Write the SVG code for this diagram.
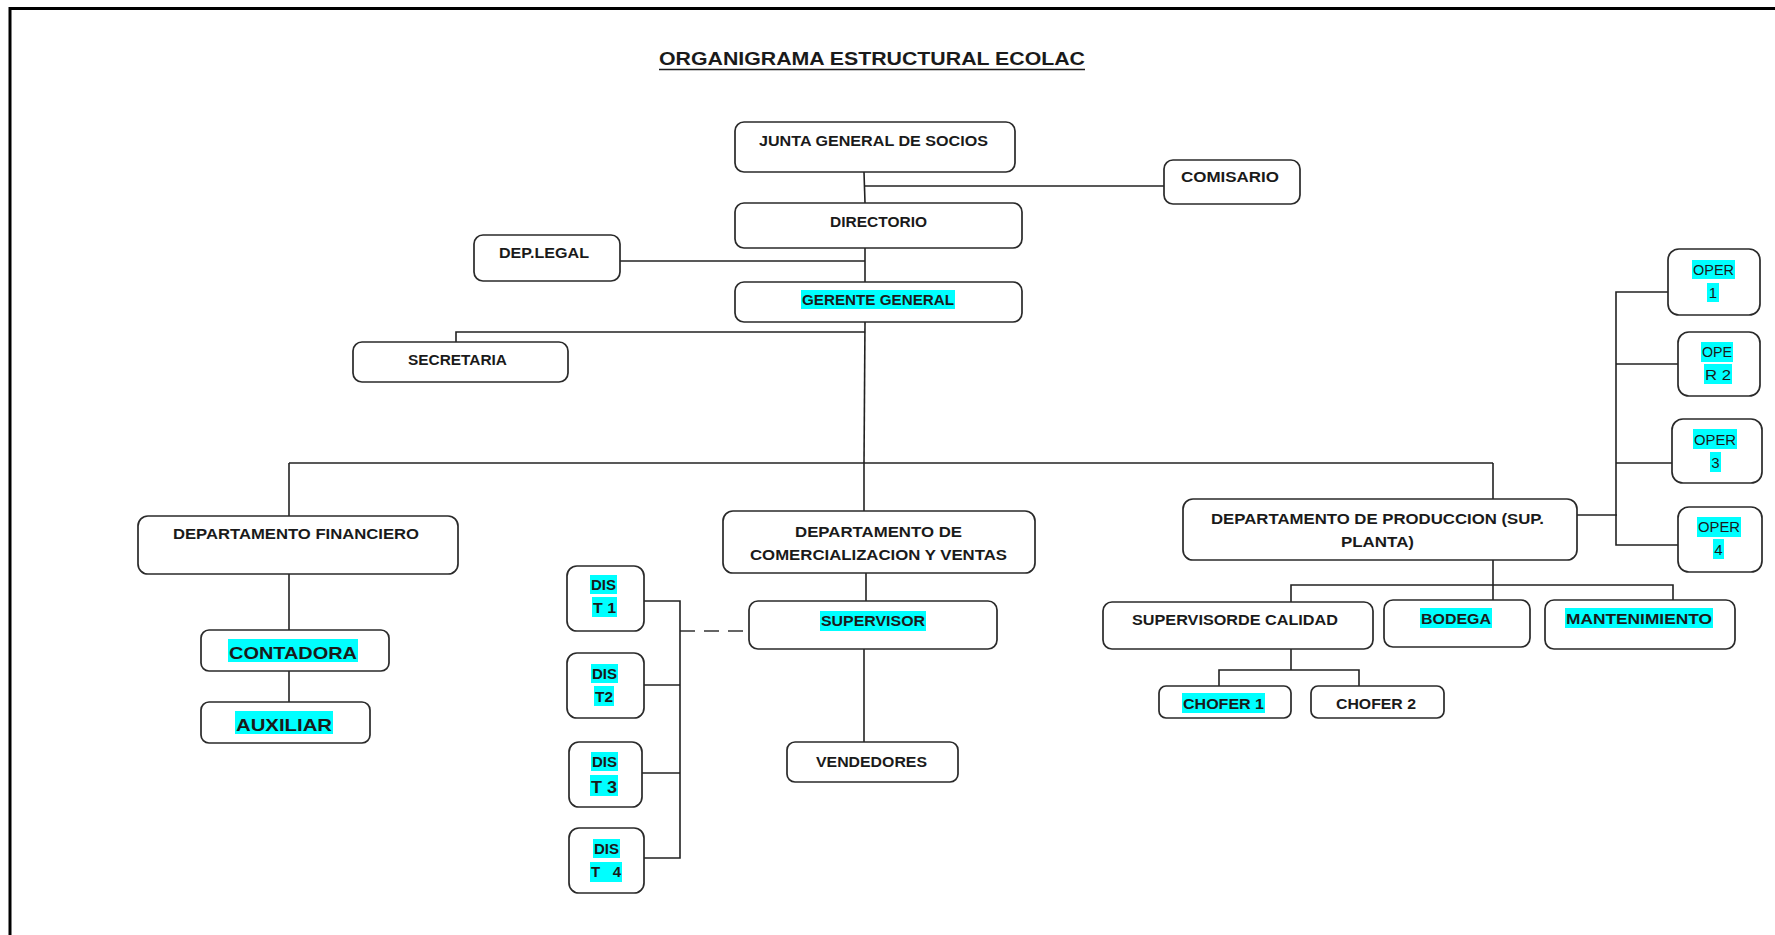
<svg xmlns="http://www.w3.org/2000/svg" width="1775" height="935" viewBox="0 0 1775 935">
<style>
.box{fill:#fff;stroke:#2a2a2a;stroke-width:1.7}
.ln{fill:none;stroke:#222;stroke-width:1.6}
.dash{fill:none;stroke:#333;stroke-width:1.6;stroke-dasharray:15 9}
.t{font-family:"Liberation Sans",Arial,sans-serif;font-weight:bold;font-size:14px;fill:#1a1a1a}
.tn{font-family:"Liberation Sans",Arial,sans-serif;font-weight:normal;font-size:15px;fill:#1a1a1a}
.big{font-size:17px}
.hl{fill:#00ffff}
</style>
<rect x="0" y="0" width="1775" height="935" fill="#fff"/>
<g id="frame">
<line x1="9" y1="8.5" x2="1775" y2="8.5" stroke="#000" stroke-width="3"/>
<line x1="10" y1="7" x2="10" y2="935" stroke="#000" stroke-width="3"/>
</g>
<g id="title">
<text class="t" x="659" y="65" style="font-size:19px" textLength="426" lengthAdjust="spacingAndGlyphs">ORGANIGRAMA ESTRUCTURAL  ECOLAC</text>
<line x1="659" y1="69.5" x2="1085" y2="69.5" stroke="#1a1a1a" stroke-width="1.5"/>
</g>
<g id="connectors">
<path class="ln" d="M864,172 L865,203"/>
<path class="ln" d="M864,186 H1164"/>
<path class="ln" d="M865,248 V282"/>
<path class="ln" d="M620,261 H865"/>
<path class="ln" d="M865,322 L864,463"/>
<path class="ln" d="M865,332 H456 V342"/>
<path class="ln" d="M289,463 H1493"/>
<path class="ln" d="M289,463 V516"/>
<path class="ln" d="M864,463 V511"/>
<path class="ln" d="M1493,463 V499"/>
<path class="ln" d="M289,574 V630"/>
<path class="ln" d="M289,671 V702"/>
<path class="ln" d="M866,573 V601"/>
<path class="ln" d="M864,649 V742"/>
<path class="dash" d="M680,631 H749"/>
<path class="ln" d="M644,601 H680 V858 H644"/>
<path class="ln" d="M644,685 H680"/>
<path class="ln" d="M642,773 H680"/>
<path class="ln" d="M1577,515 H1617"/>
<path class="ln" d="M1668,292 H1616 V545 H1678"/>
<path class="ln" d="M1616,364 H1678"/>
<path class="ln" d="M1616,463 H1672"/>
<path class="ln" d="M1493,560 V600"/>
<path class="ln" d="M1291,602 V585 H1673 V600"/>
<path class="ln" d="M1291,649 V670"/>
<path class="ln" d="M1219,686 V670 H1359 V686"/>
</g>
<g id="junta">
<rect class="box" x="735" y="122" width="280" height="50" rx="9"/>
<text class="t" x="759" y="146" textLength="229" lengthAdjust="spacingAndGlyphs">JUNTA GENERAL DE SOCIOS</text>
</g>
<g id="comisario">
<rect class="box" x="1164" y="160" width="136" height="44" rx="9"/>
<text class="t" x="1181" y="182" textLength="98" lengthAdjust="spacingAndGlyphs">COMISARIO</text>
</g>
<g id="directorio">
<rect class="box" x="735" y="203" width="287" height="45" rx="9"/>
<text class="t" x="830" y="227" textLength="97" lengthAdjust="spacingAndGlyphs">DIRECTORIO</text>
</g>
<g id="deplegal">
<rect class="box" x="474" y="235" width="146" height="46" rx="9"/>
<text class="t" x="499" y="258" textLength="90" lengthAdjust="spacingAndGlyphs">DEP.LEGAL</text>
</g>
<g id="gerente">
<rect class="box" x="735" y="282" width="287" height="40" rx="9"/>
<rect class="hl" x="801" y="290" width="154" height="19"/>
<text class="t" x="802" y="305" textLength="152" lengthAdjust="spacingAndGlyphs">GERENTE GENERAL</text>
</g>
<g id="secretaria">
<rect class="box" x="353" y="342" width="215" height="40" rx="9"/>
<text class="t" x="408" y="365" textLength="99" lengthAdjust="spacingAndGlyphs">SECRETARIA</text>
</g>
<g id="financiero">
<rect class="box" x="138" y="516" width="320" height="58" rx="10"/>
<text class="t" x="173" y="539" textLength="246" lengthAdjust="spacingAndGlyphs">DEPARTAMENTO FINANCIERO</text>
</g>
<g id="comercializacion">
<rect class="box" x="723" y="511" width="312" height="62" rx="10"/>
<text class="t" x="795" y="537" textLength="167" lengthAdjust="spacingAndGlyphs">DEPARTAMENTO DE</text>
<text class="t" x="750" y="560" textLength="257" lengthAdjust="spacingAndGlyphs">COMERCIALIZACION Y VENTAS</text>
</g>
<g id="produccion">
<rect class="box" x="1183" y="499" width="394" height="61" rx="10"/>
<text class="t" x="1211" y="524" textLength="333" lengthAdjust="spacingAndGlyphs">DEPARTAMENTO DE PRODUCCION (SUP.</text>
<text class="t" x="1341" y="547" textLength="73" lengthAdjust="spacingAndGlyphs">PLANTA)</text>
</g>
<g id="contadora">
<rect class="box" x="201" y="630" width="188" height="41" rx="8"/>
<rect class="hl" x="228" y="639" width="130" height="23"/>
<text class="t big" x="229" y="659" textLength="128" lengthAdjust="spacingAndGlyphs">CONTADORA</text>
</g>
<g id="auxiliar">
<rect class="box" x="201" y="702" width="169" height="41" rx="8"/>
<rect class="hl" x="235" y="711" width="98" height="23"/>
<text class="t big" x="236" y="731" textLength="96" lengthAdjust="spacingAndGlyphs">AUXILIAR</text>
</g>
<g id="dist1">
<rect class="box" x="567" y="566" width="77" height="65" rx="10"/>
<rect class="hl" x="590" y="575" width="27" height="19"/>
<rect class="hl" x="592" y="597" width="25" height="20"/>
<text class="t" x="591" y="590" textLength="25" lengthAdjust="spacingAndGlyphs">DIS</text>
<text class="t" x="593" y="613" textLength="23" lengthAdjust="spacingAndGlyphs" style="font-size:15px">T 1</text>
</g>
<g id="dist2">
<rect class="box" x="567" y="653" width="77" height="65" rx="10"/>
<rect class="hl" x="591" y="664" width="27" height="19"/>
<rect class="hl" x="594" y="686" width="20" height="20"/>
<text class="t" x="592" y="679" textLength="25" lengthAdjust="spacingAndGlyphs">DIS</text>
<text class="t" x="595" y="702" textLength="18" lengthAdjust="spacingAndGlyphs">T2</text>
</g>
<g id="dist3">
<rect class="box" x="569" y="742" width="73" height="65" rx="10"/>
<rect class="hl" x="591" y="752" width="27" height="19"/>
<rect class="hl" x="590" y="775" width="28" height="21"/>
<text class="t" x="592" y="767" textLength="25" lengthAdjust="spacingAndGlyphs">DIS</text>
<text class="t" x="591" y="793" textLength="26" lengthAdjust="spacingAndGlyphs" style="font-size:17px">T 3</text>
</g>
<g id="dist4">
<rect class="box" x="569" y="828" width="75" height="65" rx="10"/>
<rect class="hl" x="593" y="839" width="27" height="19"/>
<rect class="hl" x="590" y="862" width="32" height="20"/>
<text class="t" x="594" y="854" textLength="25" lengthAdjust="spacingAndGlyphs">DIS</text>
<text class="t" x="591" y="877" textLength="30" lengthAdjust="spacing" style="font-size:15px" xml:space="preserve">T  4</text>
</g>
<g id="supervisor">
<rect class="box" x="749" y="601" width="248" height="48" rx="9"/>
<rect class="hl" x="820" y="611" width="106" height="20"/>
<text class="t" x="821" y="626" textLength="104" lengthAdjust="spacingAndGlyphs">SUPERVISOR</text>
</g>
<g id="vendedores">
<rect class="box" x="787" y="742" width="171" height="40" rx="8"/>
<text class="t" x="816" y="767" textLength="111" lengthAdjust="spacingAndGlyphs">VENDEDORES</text>
</g>
<g id="oper1">
<rect class="box" x="1668" y="249" width="92" height="66" rx="11"/>
<rect class="hl" x="1692" y="260" width="43" height="19"/>
<rect class="hl" x="1707" y="283" width="12" height="19"/>
<text class="tn" x="1693" y="275" textLength="41" lengthAdjust="spacingAndGlyphs">OPER</text>
<text class="tn" x="1713" y="298" text-anchor="middle">1</text>
</g>
<g id="oper2">
<rect class="box" x="1678" y="332" width="82" height="64" rx="11"/>
<rect class="hl" x="1701" y="342" width="32" height="20"/>
<rect class="hl" x="1704" y="364" width="28" height="20"/>
<text class="tn" x="1702" y="357" textLength="30" lengthAdjust="spacingAndGlyphs">OPE</text>
<text class="tn" x="1705" y="380" textLength="26" lengthAdjust="spacingAndGlyphs">R 2</text>
</g>
<g id="oper3">
<rect class="box" x="1672" y="419" width="90" height="64" rx="11"/>
<rect class="hl" x="1693" y="429" width="44" height="20"/>
<rect class="hl" x="1710" y="452" width="11" height="20"/>
<text class="tn" x="1694" y="445" textLength="42" lengthAdjust="spacingAndGlyphs">OPER</text>
<text class="tn" x="1715.5" y="468" text-anchor="middle">3</text>
</g>
<g id="oper4">
<rect class="box" x="1678" y="507" width="84" height="65" rx="11"/>
<rect class="hl" x="1697" y="517" width="44" height="20"/>
<rect class="hl" x="1713" y="539" width="11" height="20"/>
<text class="tn" x="1698" y="532" textLength="42" lengthAdjust="spacingAndGlyphs">OPER</text>
<text class="tn" x="1718.5" y="555" text-anchor="middle">4</text>
</g>
<g id="supcalidad">
<rect class="box" x="1103" y="602" width="270" height="47" rx="9"/>
<text class="t" x="1132" y="625" textLength="206" lengthAdjust="spacingAndGlyphs">SUPERVISORDE CALIDAD</text>
</g>
<g id="bodega">
<rect class="box" x="1384" y="600" width="146" height="47" rx="9"/>
<rect class="hl" x="1420" y="608" width="72" height="20"/>
<text class="t" x="1421" y="624" textLength="70" lengthAdjust="spacingAndGlyphs">BODEGA</text>
</g>
<g id="mantenimiento">
<rect class="box" x="1545" y="600" width="190" height="49" rx="9"/>
<rect class="hl" x="1565" y="608" width="148" height="20"/>
<text class="t" x="1566" y="624" textLength="146" lengthAdjust="spacingAndGlyphs">MANTENIMIENTO</text>
</g>
<g id="chofer1">
<rect class="box" x="1159" y="686" width="132" height="32" rx="7"/>
<rect class="hl" x="1182" y="693" width="83" height="20"/>
<text class="t" x="1183" y="709" textLength="81" lengthAdjust="spacingAndGlyphs">CHOFER 1</text>
</g>
<g id="chofer2">
<rect class="box" x="1311" y="686" width="133" height="32" rx="7"/>
<text class="t" x="1336" y="709" textLength="80" lengthAdjust="spacingAndGlyphs">CHOFER 2</text>
</g>
</svg>
